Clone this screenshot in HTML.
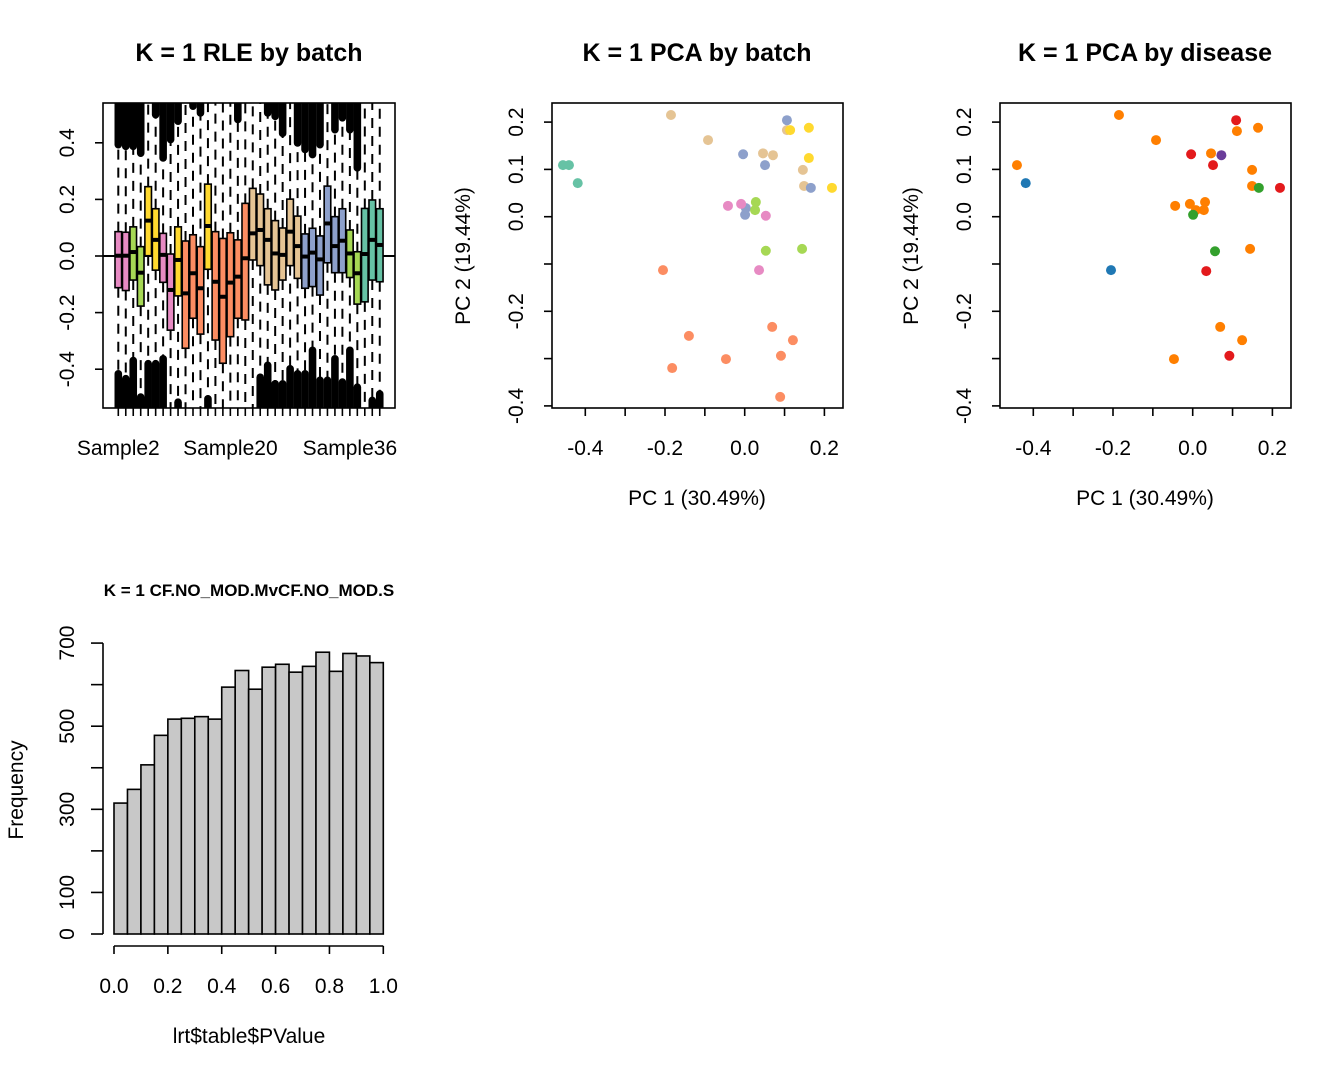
<!DOCTYPE html>
<html><head><meta charset="utf-8">
<style>
body{margin:0;background:#fff;}
svg{display:block;font-family:"Liberation Sans",Arial,sans-serif;}
</style></head>
<body>
<svg id="root" width="1344" height="1075" viewBox="0 0 1344 1075" xmlns="http://www.w3.org/2000/svg">
<rect width="1344" height="1075" fill="#fff"/>
<g id="rle"></g>
<g id="pca1"></g>
<g id="pca2"></g>
<g id="hist"></g>
</svg>
<script>
// ---------- RLE data ----------
const rleBatch = ["pink","pink","green","green","yellow","yellow","pink","pink","yellow","salmon","salmon","salmon","yellow","salmon","salmon","salmon","salmon","salmon","tan","tan","tan","tan","tan","tan","tan","blue","blue","blue","blue","blue","blue","green","green","teal","teal","teal"];
const rleQ3 = [0.086,0.084,0.103,0.033,0.245,0.167,0.080,0.007,0.103,0.053,0.075,0.033,0.254,0.086,0.062,0.082,0.057,0.186,0.239,0.219,0.167,0.125,0.099,0.201,0.141,0.078,0.098,0.071,0.247,0.139,0.167,0.092,0.015,0.168,0.198,0.167];
const rleMed = [0.001,0.001,0.014,-0.059,0.125,0.057,0.004,-0.120,-0.014,-0.132,-0.061,-0.114,0.106,-0.091,-0.144,-0.094,-0.073,-0.008,0.080,0.092,0.057,0.009,0.004,0.086,0.035,-0.002,0.012,-0.012,0.115,0.035,0.054,0.009,-0.061,0.007,0.057,0.039];
const rleQ1 = [-0.112,-0.122,-0.085,-0.177,0.001,-0.050,-0.093,-0.262,-0.141,-0.326,-0.220,-0.276,-0.047,-0.297,-0.379,-0.285,-0.220,-0.226,-0.014,-0.034,-0.102,-0.120,-0.085,-0.034,-0.079,-0.114,-0.108,-0.138,-0.024,-0.059,-0.059,-0.076,-0.170,-0.162,-0.085,-0.091];
const rleTopOut = [0.38,0.374,0.374,0.35,null,0.486,0.333,0.398,0.463,null,0.516,0.492,null,null,null,null,0.469,null,null,null,0.492,0.48,0.42,null,0.386,0.363,0.345,0.38,null,0.433,0.475,0.433,0.298,null,null,null];
const rleBotOut = [-0.403,-0.42,-0.356,-0.485,-0.367,-0.367,-0.35,null,-0.503,null,null,null,-0.491,null,null,null,null,null,null,-0.415,-0.373,-0.438,-0.438,-0.385,-0.403,-0.403,-0.32,-0.426,-0.426,-0.35,-0.432,-0.32,-0.45,null,-0.497,-0.474];
const rleYTicks = [-0.4,-0.2,0.0,0.2,0.4];
const rleXLabels = [{i:0,t:"Sample2"},{i:15,t:"Sample20"},{i:31,t:"Sample36"}];
// ---------- PCA by batch ----------
const pcaBatchX = [-0.456,-0.441,-0.419,-0.185,-0.092,0.046,0.071,0.106,0.146,0.149,0.106,-0.004,0.051,0.166,0.003,0.001,0.114,0.161,0.161,0.219,-0.042,-0.009,0.053,0.036,0.028,0.026,0.053,0.144,-0.205,-0.140,0.069,0.121,-0.047,0.091,-0.182,0.089];
const pcaBatchY = [0.109,0.109,0.071,0.215,0.162,0.134,0.130,0.183,0.099,0.065,0.204,0.132,0.109,0.061,0.018,0.004,0.183,0.188,0.124,0.061,0.023,0.027,0.002,-0.113,0.031,0.014,-0.072,-0.068,-0.113,-0.252,-0.233,-0.261,-0.301,-0.294,-0.320,-0.381];
const pcaBatchG = ["teal","teal","teal","tan","tan","tan","tan","tan","tan","tan","blue","blue","blue","blue","blue","blue","yellow","yellow","yellow","yellow","pink","pink","pink","pink","green","green","green","green","salmon","salmon","salmon","salmon","salmon","salmon","salmon","salmon"];
// ---------- PCA by disease ----------
const pcaDisX = [-0.185,-0.092,-0.441,0.111,0.164,0.046,0.149,0.149,-0.044,-0.007,0.031,0.028,0.008,0.144,0.069,0.124,-0.047,0.109,-0.004,0.051,0.219,0.034,0.092,-0.419,-0.205,0.166,0.001,0.056,0.072];
const pcaDisY = [0.215,0.162,0.109,0.181,0.188,0.134,0.099,0.065,0.023,0.027,0.031,0.014,0.014,-0.068,-0.233,-0.261,-0.301,0.204,0.132,0.109,0.061,-0.115,-0.294,0.071,-0.113,0.061,0.004,-0.073,0.130];
const pcaDisG = ["orange","orange","orange","orange","orange","orange","orange","orange","orange","orange","orange","orange","orange","orange","orange","orange","orange","red","red","red","red","red","red","blue","blue","green","green","green","purple"];
const pcaXTicks = [-0.4,-0.3,-0.2,-0.1,0.0,0.1,0.2];
const pcaXLabels = [-0.4,-0.2,0.0,0.2];
const pcaYTicks = [-0.4,-0.3,-0.2,-0.1,0.0,0.1,0.2];
const pcaYLabels = [-0.4,-0.2,0.0,0.1,0.2];
// ---------- Histogram ----------
const histCounts = [315,348,407,478,517,519,523,517,594,634,589,642,649,630,644,678,632,675,669,653];
const histXTicks = [0.0,0.2,0.4,0.6,0.8,1.0];
const histYTicks = [0,100,200,300,400,500,600,700];
const histYLabels = [0,100,300,500,700];

const batchCol = {teal:"#66C2A5",salmon:"#FC8D62",blue:"#8DA0CB",pink:"#E78AC3",green:"#A6D854",yellow:"#FFD92F",tan:"#E5C494"};
const disCol = {orange:"#FF7F00",red:"#E31A1C",blue:"#1F78B4",green:"#33A02C",purple:"#6A3D9A"};

const NS="http://www.w3.org/2000/svg";
function mk(parent,tag,attrs,text){const e=document.createElementNS(NS,tag);for(const k in attrs)e.setAttribute(k,attrs[k]);if(text!==undefined)e.textContent=text;parent.appendChild(e);return e;}
const fmt=v=>{if(Math.abs(v)<1e-9)return "0.0";return v.toFixed(1);};
const FS=21, TFS=25;

// ===== RLE =====
(function(){
  const g=document.getElementById('rle');
  const L=103,R=395,T=103,B=408;
  const y=v=>256-v*283;
  const x=i=>118.3+i*7.47;
  mk(g,'defs',{}).innerHTML='<clipPath id="rleclip"><rect x="'+L+'" y="'+T+'" width="'+(R-L)+'" height="'+(B-T)+'"/></clipPath>';
  const t=mk(g,'text',{x:249,y:61,'text-anchor':'middle','font-size':TFS,'font-weight':'bold'},'K = 1 RLE by batch');
  
  const pg=mk(g,'g',{'clip-path':'url(#rleclip)'});
  const hw=3.3;
  rleQ3.forEach((q3,i)=>{
    const cx=x(i);
    const w1=mk(pg,'line',{x1:cx,x2:cx,y1:y(q3),y2:T-5,stroke:'#000','stroke-width':2,'stroke-dasharray':'10,8'});
    
    const w2=mk(pg,'line',{x1:cx,x2:cx,y1:y(rleQ1[i]),y2:B+5,stroke:'#000','stroke-width':2,'stroke-dasharray':'10,8'});
    
    if(rleTopOut[i]!==null){const yy=y(rleTopOut[i]);
      const o=mk(pg,'rect',{x:cx-3.8,y:T-10,width:7.6,height:yy-T+10,rx:3.8,fill:'#000'});
      }
    if(rleBotOut[i]!==null){const yy=y(rleBotOut[i]);
      const o=mk(pg,'rect',{x:cx-3.8,y:yy,width:7.6,height:B-yy+10,rx:3.8,fill:'#000'});
      }
  });
  const z=mk(pg,'line',{x1:L,x2:R,y1:y(0),y2:y(0),stroke:'#000','stroke-width':2});
  
  rleQ3.forEach((q3,i)=>{
    const cx=x(i);
    const b=mk(pg,'rect',{x:cx-hw,y:y(q3),width:2*hw,height:y(rleQ1[i])-y(q3),fill:batchCol[rleBatch[i]],stroke:'#000','stroke-width':1.6});
    
    const m=mk(pg,'line',{x1:cx-hw,x2:cx+hw,y1:y(rleMed[i]),y2:y(rleMed[i]),stroke:'#000','stroke-width':4});
    
  });
  const fr=mk(g,'rect',{x:L,y:T,width:R-L,height:B-T,fill:'none',stroke:'#000','stroke-width':1.6});
  
  rleYTicks.forEach(v=>{
    const tk=mk(g,'line',{x1:L-8,x2:L,y1:y(v),y2:y(v),stroke:'#000','stroke-width':1.6});
    
    const lb=mk(g,'text',{x:0,y:0,transform:'translate(74,'+y(v)+') rotate(-90)','text-anchor':'middle','font-size':FS},fmt(v));
    
  });
  rleQ3.forEach((q,i)=>{const tk=mk(g,'line',{x1:x(i),x2:x(i),y1:B,y2:B+8,stroke:'#000','stroke-width':1.6});
    });
  rleXLabels.forEach(o=>{const lb=mk(g,'text',{x:x(o.i),y:455,'text-anchor':'middle','font-size':FS},o.t);
    });
})();

// ===== PCA =====
function pca(id,off,title,xs,ys,gs,cols){
  const g=document.getElementById(id);
  const L=552+off,R=843+off,T=103,B=408;
  const x=v=>744.7+off+v*398.5;
  const y=v=>216.7-v*473;
  const t=mk(g,'text',{x:697+off,y:61,'text-anchor':'middle','font-size':TFS,'font-weight':'bold'},title);
  
  xs.forEach((v,i)=>{const c=mk(g,'circle',{cx:x(v),cy:y(ys[i]),r:5,fill:cols[gs[i]]});
    });
  const fr=mk(g,'rect',{x:L,y:T,width:R-L,height:B-T,fill:'none',stroke:'#000','stroke-width':1.6});
  
  pcaXTicks.forEach(v=>{const tk=mk(g,'line',{x1:x(v),x2:x(v),y1:B,y2:B+8,stroke:'#000','stroke-width':1.6});
    });
  pcaXLabels.forEach(v=>{const lb=mk(g,'text',{x:x(v),y:455,'text-anchor':'middle','font-size':FS},fmt(v));
    });
  pcaYTicks.forEach(v=>{const tk=mk(g,'line',{x1:L-8,x2:L,y1:y(v),y2:y(v),stroke:'#000','stroke-width':1.6});
    });
  pcaYLabels.forEach(v=>{const lb=mk(g,'text',{x:0,y:0,transform:'translate('+(523+off)+','+y(v)+') rotate(-90)','text-anchor':'middle','font-size':FS},fmt(v));
    });
  const xl=mk(g,'text',{x:697+off,y:505,'text-anchor':'middle','font-size':FS},'PC 1 (30.49%)');
  
  const yl=mk(g,'text',{x:0,y:0,transform:'translate('+(470+off)+',256) rotate(-90)','text-anchor':'middle','font-size':FS},'PC 2 (19.44%)');
  
}
pca('pca1',0,'K = 1 PCA by batch',pcaBatchX,pcaBatchY,pcaBatchG,batchCol);
pca('pca2',448,'K = 1 PCA by disease',pcaDisX,pcaDisY,pcaDisG,disCol);

// ===== Histogram =====
(function(){
  const g=document.getElementById('hist');
  const x=v=>114+v*269.3;
  const y=v=>934-v*0.4156;
  const t=mk(g,'text',{x:249,y:596,'text-anchor':'middle','font-size':17,'font-weight':'bold'},'K = 1 CF.NO_MOD.MvCF.NO_MOD.S');
  
  const bw=1/histCounts.length;
  histCounts.forEach((c,i)=>{const b=mk(g,'rect',{x:x(i*bw),y:y(c),width:x(bw)-x(0),height:y(0)-y(c),fill:'#C8C8C8',stroke:'#000','stroke-width':1.6});
    });
  const ax=mk(g,'line',{x1:x(0),x2:x(1),y1:946,y2:946,stroke:'#000','stroke-width':1.6});
  
  histXTicks.forEach(v=>{const tk=mk(g,'line',{x1:x(v),x2:x(v),y1:946,y2:954,stroke:'#000','stroke-width':1.6});
    
    const lb=mk(g,'text',{x:x(v),y:993,'text-anchor':'middle','font-size':FS},v.toFixed(1));
    });
  const ay=mk(g,'line',{x1:103,x2:103,y1:y(0),y2:y(700),stroke:'#000','stroke-width':1.6});
  
  histYTicks.forEach(v=>{const tk=mk(g,'line',{x1:91,x2:103,y1:y(v),y2:y(v),stroke:'#000','stroke-width':1.6});
    });
  histYLabels.forEach(v=>{const lb=mk(g,'text',{x:0,y:0,transform:'translate(74,'+y(v)+') rotate(-90)','text-anchor':'middle','font-size':FS},String(v));
    });
  const xl=mk(g,'text',{x:249,y:1043,'text-anchor':'middle','font-size':FS},'lrt$table$PValue');
  
  const yl=mk(g,'text',{x:0,y:0,transform:'translate(23,790) rotate(-90)','text-anchor':'middle','font-size':FS},'Frequency');
  
})();
</script>
</body></html>
